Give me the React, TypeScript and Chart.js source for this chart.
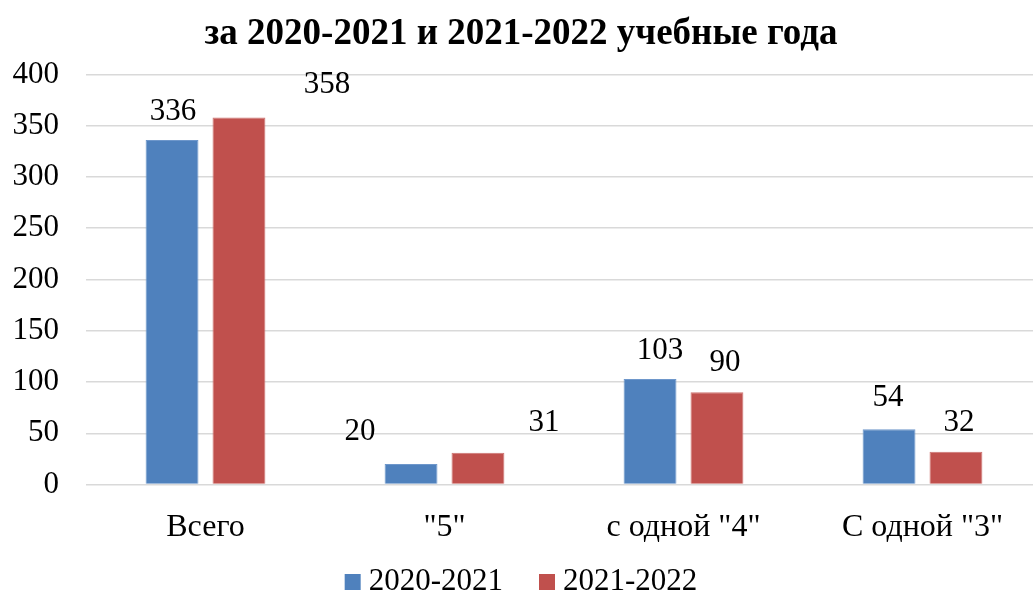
import React, { useEffect, useRef } from "react";
import { Chart, registerables } from "chart.js";

Chart.register(...registerables);

const titleText = "за 2020-2021 и 2021-2022 учебные года";
const categories = ["Всего", "\"5\"", "с одной \"4\"", "С одной \"3\""];
const seriesNames = ["2020-2021", "2021-2022"];
const values2020 = [336, 20, 103, 54];
const values2021 = [358, 31, 90, 32];
const yMin = 0;
const yMax = 400;
const yStep = 50;

// label placement tweaks (dx, dy relative to bar top centre), per dataset
const labelShift = [
  [[1, -28], [-51, -32], [10, -28], [-1, -31]],
  [[88, -33], [66, -30], [8, -29], [3, -29]],
];

const FONT = "'Liberation Serif', 'Times New Roman', serif";

const valueLabels = {
  id: "valueLabels",
  afterDatasetsDraw(chart: any) {
    const ctx = chart.ctx;
    ctx.save();
    ctx.font = `31px ${FONT}`;
    ctx.fillStyle = "#000";
    ctx.textAlign = "center";
    ctx.textBaseline = "middle";
    chart.data.datasets.forEach((ds: any, di: number) => {
      const meta = chart.getDatasetMeta(di);
      meta.data.forEach((el: any, i: number) => {
        const [dx, dy] = labelShift[di][i];
        ctx.fillText(String(ds.data[i]), el.x + dx, el.y + dy);
      });
    });
    ctx.restore();
  },
};

const bottomLegend = {
  id: "bottomLegend",
  afterDraw(chart: any) {
    const ctx = chart.ctx;
    ctx.save();
    ctx.font = `31px ${FONT}`;
    ctx.textBaseline = "middle";
    ctx.textAlign = "left";
    const box = 16;
    const gapText = 8;
    const gapItem = 36;
    const items = chart.data.datasets.map((ds: any) => ({
      text: ds.label,
      color: ds.backgroundColor,
      w: ctx.measureText(ds.label).width,
    }));
    const total = items.reduce(
      (s: number, it: any, i: number) => s + box + gapText + it.w + (i > 0 ? gapItem : 0),
      0
    );
    let x = chart.width / 2 - total / 2;
    const cy = chart.height - 11;
    items.forEach((it: any) => {
      ctx.fillStyle = it.color;
      ctx.fillRect(x, cy - box / 2, box, box);
      x += box + gapText;
      ctx.fillStyle = "#000";
      ctx.fillText(it.text, x, cy);
      x += it.w + gapItem;
    });
    ctx.restore();
  },
};

export default function App() {
  const ref = useRef<HTMLCanvasElement>(null);
  useEffect(() => {
    if (!ref.current) return;
    const chart = new Chart(ref.current, {
      type: "bar",
      data: {
        labels: categories,
        datasets: [
          {
            label: seriesNames[0],
            data: values2020,
            backgroundColor: "#4F81BD",
            borderColor: "#6E97CB",
            borderWidth: 1,
            categoryPercentage: 0.56,
            barPercentage: 0.79,
          },
          {
            label: seriesNames[1],
            data: values2021,
            backgroundColor: "#C0504D",
            borderColor: "#CD7370",
            borderWidth: 1,
            categoryPercentage: 0.56,
            barPercentage: 0.79,
          },
        ],
      },
      options: {
        responsive: true,
        maintainAspectRatio: false,
        animation: false,
        layout: { padding: { left: 0, right: 0, top: 6, bottom: 30 } },
        plugins: {
          title: {
            display: true,
            text: titleText,
            color: "#000",
            font: { family: FONT, size: 37, weight: "bold" },
            padding: { top: 6, bottom: 18 },
          },
          legend: { display: false },
          tooltip: { enabled: false },
        },
        scales: {
          x: {
            grid: { display: false },
            border: { display: false },
            ticks: {
              color: "#000",
              font: { family: FONT, size: 32 },
              padding: 16,
              maxRotation: 0,
            },
          },
          y: {
            min: yMin,
            max: yMax,
            afterFit: (scale: any) => {
              scale.width = 86;
            },
            grid: { color: "#D9D9D9", lineWidth: 1.5, drawTicks: false },
            border: { display: false },
            ticks: {
              stepSize: yStep,
              color: "#000",
              font: { family: FONT, size: 31 },
              padding: 27,
            },
          },
        },
      },
      plugins: [valueLabels, bottomLegend],
    });
    return () => chart.destroy();
  }, []);
  return (
    <div
      style={{
        position: "fixed",
        left: 0,
        top: 0,
        width: "1042px",
        height: "593px",
        background: "#fff",
      }}
    >
      <canvas ref={ref} />
    </div>
  );
}
